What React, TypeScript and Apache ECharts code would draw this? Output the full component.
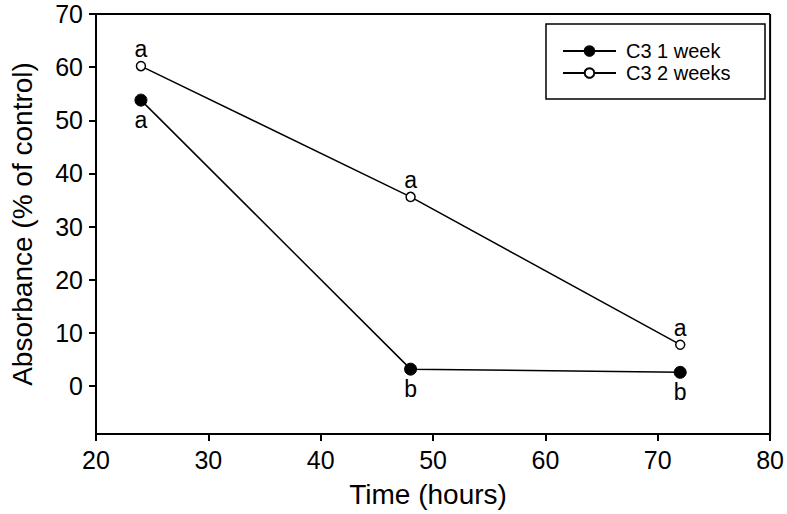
import React, { useEffect, useRef } from "react";
import * as echarts from "echarts";

const hours = [24, 48, 72];
const week1 = [53.8, 3.2, 2.6];
const week2 = [60.2, 35.6, 7.8];
const letters1 = ["a", "b", "b"];
const letters2 = ["a", "a", "a"];
const yTicks = [0, 10, 20, 30, 40, 50, 60, 70];
const seriesNames = ["C3 1 week", "C3 2 weeks"];

const FONT = "'Liberation Sans', Arial, Helvetica, sans-serif";

export default function App() {
  const ref = useRef<HTMLDivElement>(null);
  useEffect(() => {
    if (!ref.current) return;
    const chart = echarts.init(ref.current, null, { renderer: "svg" });
    const mk = (vals: number[], letters: string[], pos: string) =>
      vals.map((v, i) => ({
        value: [hours[i], v],
        label: { show: true, formatter: letters[i], position: pos },
      }));
    chart.setOption({
      animation: false,
      backgroundColor: "#fff",
      textStyle: { fontFamily: FONT, color: "#000" },
      grid: { left: 93, right: 15, top: 14, bottom: 80 },
      legend: {
        left: 562,
        top: 41,
        padding: 0,
        orient: "vertical",
        itemWidth: 53,
        itemHeight: 12,
        itemGap: 2,
        textStyle: { fontFamily: FONT, fontSize: 20, color: "#000", padding: [0, 0, 0, 5] },
        data: seriesNames,
      },
      graphic: [
        {
          type: "rect",
          shape: { x: 546, y: 24, width: 219, height: 75 },
          style: { fill: "none", stroke: "#000", lineWidth: 1.5 },
          z: 10,
        },
      ],
      xAxis: {
        type: "value",
        min: 20,
        max: 80,
        interval: 10,
        name: "Time (hours)",
        nameLocation: "middle",
        nameGap: 46,
        nameTextStyle: { fontFamily: FONT, fontSize: 28, color: "#000", padding: [0, 10, 0, 0] },
        axisLine: { show: true, onZero: false, lineStyle: { color: "#000", width: 2 } },
        axisTick: { show: true, inside: false, length: 7, lineStyle: { color: "#000", width: 2 } },
        axisLabel: { fontFamily: FONT, fontSize: 25, color: "#000", margin: 13 },
        splitLine: { show: false },
      },
      yAxis: {
        type: "value",
        min: -9,
        max: 70,
        name: "Absorbance (% of control)",
        nameLocation: "middle",
        nameGap: 60,
        nameTextStyle: { fontFamily: FONT, fontSize: 28, color: "#000" },
        axisLine: { show: true, onZero: false, lineStyle: { color: "#000", width: 2 } },
        axisTick: { show: true, inside: false, length: 7, customValues: yTicks, lineStyle: { color: "#000", width: 2 } },
        axisLabel: { fontFamily: FONT, fontSize: 25, color: "#000", margin: 13, customValues: yTicks },
        splitLine: { show: false },
      },
      series: [
        {
          name: seriesNames[0],
          type: "line",
          data: mk(week1, letters1, "bottom"),
          symbol: "circle",
          symbolSize: 12,
          lineStyle: { color: "#000", width: 1.5 },
          itemStyle: { color: "#000", borderColor: "#000", borderWidth: 1 },
          label: { fontFamily: FONT, fontSize: 23, color: "#000", distance: 2 },
          z: 3,
        },
        {
          name: seriesNames[1],
          type: "line",
          data: mk(week2, letters2, "top"),
          symbol: "circle",
          symbolSize: 9,
          lineStyle: { color: "#000", width: 1.5 },
          itemStyle: { color: "#fff", borderColor: "#000", borderWidth: 1.5 },
          label: { fontFamily: FONT, fontSize: 23, color: "#000", distance: 0 },
          z: 3,
        },
        {
          type: "line",
          data: [[80, -9], [80, 70]],
          symbol: "none",
          silent: true,
          lineStyle: { color: "#000", width: 2 },
        },
        {
          type: "line",
          data: [[20, 70], [80, 70]],
          symbol: "none",
          silent: true,
          lineStyle: { color: "#000", width: 2 },
        },
      ],
    });
    return () => chart.dispose();
  }, []);
  return <div ref={ref} style={{ width: 787, height: 514, position: "absolute", left: 0, top: 0 }} />;
}
